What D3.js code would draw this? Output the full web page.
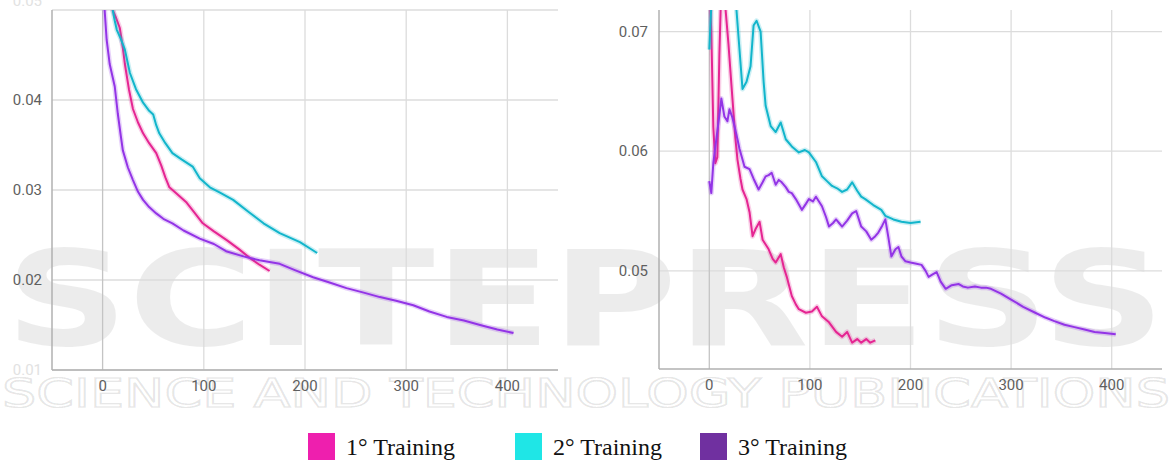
<!DOCTYPE html>
<html>
<head>
<meta charset="utf-8">
<script src="https://cdn.jsdelivr.net/npm/d3@7"></script>
<style>
  body { margin: 0; background: #fff; }
  svg { display: block; }
</style>
</head>
<body>
<script>
// series, as [step, loss] pairs
const leftPink = [[8,0.0525],[10,0.0500],[13,0.0492],[17,0.0480],[20,0.0458],[22,0.0440],[26,0.0412],[30,0.0390],[35,0.0375],[40,0.0363],[46,0.0352],[53,0.0341],[58,0.0327],[62,0.0314],[66,0.0303],[73,0.0296],[83,0.0286],[90,0.0276],[99,0.0263],[110,0.0254],[123,0.0244],[135,0.0234],[146,0.0224],[155,0.0217],[165,0.0210]];
const leftCyan = [[10,0.0500],[12,0.0488],[14,0.0478],[18,0.0468],[22,0.0456],[27,0.0430],[33,0.0412],[40,0.0397],[46,0.0388],[50,0.0384],[53,0.0372],[56,0.0363],[62,0.0352],[69,0.0341],[78,0.0334],[89,0.0326],[96,0.0313],[106,0.0303],[116,0.0297],[129,0.0289],[145,0.0275],[159,0.0263],[175,0.0252],[195,0.0242],[205,0.0235],[212,0.0230]];
const leftPurple = [[0,0.0520],[2,0.0500],[4,0.0467],[7,0.0440],[10,0.0425],[12,0.0415],[15,0.0385],[18,0.0360],[20,0.0344],[25,0.0325],[30,0.0311],[35,0.0298],[40,0.0289],[46,0.0281],[53,0.0274],[60,0.0268],[69,0.0263],[80,0.0255],[96,0.0246],[110,0.0240],[122,0.0232],[140,0.0226],[155,0.0222],[175,0.0218],[190,0.0211],[208,0.0203],[225,0.0197],[241,0.0191],[258,0.0186],[274,0.0181],[290,0.0177],[307,0.0172],[323,0.0165],[340,0.0159],[357,0.0155],[373,0.0150],[390,0.0145],[406,0.0141]];

const rightPink = [[0,0.0740],[2,0.0700],[4,0.0620],[6,0.0590],[8,0.0595],[10,0.0680],[12,0.0740],[15,0.0730],[19,0.0690],[23,0.0644],[26,0.0610],[28,0.0593],[31,0.0577],[33,0.0568],[37,0.0560],[40,0.0549],[43,0.0529],[46,0.0535],[50,0.0541],[53,0.0526],[56,0.0522],[59,0.0518],[63,0.0510],[66,0.0507],[71,0.0514],[74,0.0503],[77,0.0495],[82,0.0479],[86,0.0472],[89,0.0468],[96,0.0465],[102,0.0466],[107,0.0470],[112,0.0462],[119,0.0457],[126,0.0449],[132,0.0445],[137,0.0449],[142,0.0440],[147,0.0443],[151,0.0440],[156,0.0443],[160,0.0440],[165,0.0442]];
const rightCyan = [[0,0.0685],[3,0.0740],[10,0.0760],[20,0.0750],[25,0.0725],[27,0.0718],[30,0.0685],[33,0.0652],[37,0.0658],[41,0.0671],[44,0.0705],[47,0.0709],[51,0.0700],[54,0.0658],[56,0.0638],[61,0.0621],[66,0.0616],[71,0.0624],[76,0.0610],[82,0.0604],[89,0.0599],[95,0.0601],[99,0.0599],[106,0.0591],[112,0.0579],[117,0.0575],[122,0.0571],[127,0.0569],[132,0.0566],[137,0.0568],[142,0.0574],[147,0.0567],[151,0.0562],[155,0.0560],[163,0.0555],[171,0.0551],[175,0.0546],[183,0.0543],[191,0.0541],[200,0.0540],[210,0.0541]];
const rightPurple = [[0,0.0575],[2,0.0565],[4,0.0590],[7,0.0610],[10,0.0630],[12,0.0644],[15,0.0629],[18,0.0625],[20,0.0635],[23,0.0628],[25,0.0621],[28,0.0610],[30,0.0602],[33,0.0593],[35,0.0587],[40,0.0585],[44,0.0577],[49,0.0568],[53,0.0574],[56,0.0579],[59,0.0580],[62,0.0582],[66,0.0572],[69,0.0576],[72,0.0574],[76,0.0570],[79,0.0566],[82,0.0565],[86,0.0560],[92,0.0551],[96,0.0556],[99,0.0560],[103,0.0558],[106,0.0562],[109,0.0558],[112,0.0554],[116,0.0545],[119,0.0537],[123,0.0540],[126,0.0543],[129,0.0540],[132,0.0537],[137,0.0542],[142,0.0548],[146,0.0550],[151,0.0537],[156,0.0533],[161,0.0526],[165,0.0529],[168,0.0532],[172,0.0538],[175,0.0543],[178,0.0528],[181,0.0512],[185,0.0518],[188,0.0520],[191,0.0512],[195,0.0508],[200,0.0507],[206,0.0506],[211,0.0505],[215,0.0500],[218,0.0495],[222,0.0497],[226,0.0499],[230,0.0491],[235,0.0485],[241,0.0488],[248,0.0489],[252,0.0487],[257,0.0486],[264,0.0487],[270,0.0486],[275,0.0486],[280,0.0485],[290,0.0481],[300,0.0476],[312,0.0470],[324,0.0465],[334,0.0461],[343,0.0458],[353,0.0455],[363,0.0453],[373,0.0451],[383,0.0449],[393,0.0448],[404,0.0447]];

const xTicks = [0, 100, 200, 300, 400];
const leftYTicks = [0.01, 0.02, 0.03, 0.04, 0.05];
const rightYTicks = [0.05, 0.06, 0.07];
const legendLabels = ["1° Training", "2° Training", "3° Training"];
const lineColors = ["#e52592", "#12b5cb", "#9334e6"];
const legendColors = ["#ee1fae", "#1fe6e6", "#7030a0"];

const svg = d3.select("body")
    .append("svg")
    .attr("width", 1173)
    .attr("height", 466);

// faint publisher watermark, behind everything
const wm = svg.append("g");
wm.append("text")
    .text("SCITEPRESS")
    .attr("x", 5)
    .attr("y", 345)
    .attr("textLength", 1160)
    .attr("lengthAdjust", "spacingAndGlyphs")
    .style("font-family", "DejaVu Sans")
    .style("font-weight", "bold")
    .style("font-size", "131px")
    .attr("fill", "#000")
    .attr("fill-opacity", 0.075);
wm.append("text")
    .text("SCIENCE AND TECHNOLOGY PUBLICATIONS")
    .attr("x", 2)
    .attr("y", 407)
    .attr("textLength", 1168)
    .attr("lengthAdjust", "spacingAndGlyphs")
    .style("font-family", "DejaVu Sans")
    .style("font-size", "39px")
    .attr("fill", "none")
    .attr("stroke", "#000")
    .attr("stroke-opacity", 0.1)
    .attr("stroke-width", 1.6);

function panel(id, xRange, yDomain, yRange, yTicks, series, labelX) {
    const x = d3.scaleLinear().domain([-50, 450]).range(xRange);
    const y = d3.scaleLinear().domain(yDomain).range(yRange);
    const g = svg.append("g");

    g.append("clipPath").attr("id", id)
        .append("rect")
        .attr("x", xRange[0]).attr("y", yRange[1])
        .attr("width", xRange[1] - xRange[0])
        .attr("height", yRange[0] - yRange[1]);

    // grid
    g.selectAll(".hg").data(yTicks).enter().append("line")
        .attr("x1", xRange[0]).attr("x2", xRange[1])
        .attr("y1", d => y(d)).attr("y2", d => y(d))
        .attr("stroke", "#dcdcdc").attr("stroke-width", 1.3);
    g.selectAll(".vg").data(xTicks).enter().append("line")
        .attr("x1", d => x(d)).attr("x2", d => x(d))
        .attr("y1", yRange[1]).attr("y2", yRange[0])
        .attr("stroke", d => d === 0 ? "#c4c4c4" : "#dcdcdc").attr("stroke-width", 1.3);

    // axis lines
    g.append("line")
        .attr("x1", xRange[0]).attr("x2", xRange[0])
        .attr("y1", yRange[1]).attr("y2", yRange[0])
        .attr("stroke", "#b0b0b0").attr("stroke-width", 1.5);
    g.append("line")
        .attr("x1", xRange[0]).attr("x2", xRange[1])
        .attr("y1", yRange[0]).attr("y2", yRange[0])
        .attr("stroke", "#b0b0b0").attr("stroke-width", 1.5);

    // tick labels; the ones sitting on the frame edge are faded out
    g.selectAll(".xl").data(xTicks).enter().append("text")
        .text(d => d)
        .attr("x", d => x(d)).attr("y", yRange[0] + 21)
        .attr("text-anchor", "middle")
        .style("font-family", "Roboto")
        .style("font-size", "15px")
        .attr("fill", "#5f5f5f");
    g.selectAll(".yl").data(yTicks).enter().append("text")
        .text(d => d.toFixed(2))
        .attr("x", labelX)
        .attr("y", d => y(d) < yRange[1] + 2 ? y(d) - 4 : y(d) + 5)
        .attr("text-anchor", "end")
        .style("font-family", "Roboto")
        .style("font-size", "15px")
        .attr("fill", d => (y(d) < yRange[1] + 2 || y(d) > yRange[0] - 2) ? "#e2e2e2" : "#5f5f5f");

    const line = d3.line().x(d => x(d[0])).y(d => y(d[1]));
    const lines = g.append("g").attr("clip-path", `url(#${id})`);
    series.forEach((s, i) => {
        // light raw trace under the smoothed one
        lines.append("path").datum(s)
            .attr("d", line)
            .attr("fill", "none")
            .attr("stroke", lineColors[i])
            .attr("stroke-opacity", 0.22)
            .attr("stroke-width", 5)
            .attr("stroke-linejoin", "round");
        lines.append("path").datum(s)
            .attr("d", line)
            .attr("fill", "none")
            .attr("stroke", lineColors[i])
            .attr("stroke-width", 2)
            .attr("stroke-linejoin", "round");
    });
}

panel("clipL", [52, 558], [0.01, 0.05], [370, 10], leftYTicks, [leftPink, leftCyan, leftPurple], 42);
panel("clipR", [659, 1162], [0.0418, 0.0718], [369, 10], rightYTicks, [rightPink, rightCyan, rightPurple], 648);

// legend
const legendX = [308, 515, 700];
const leg = svg.selectAll(".leg").data(legendLabels).enter().append("g")
    .attr("transform", (d, i) => `translate(${legendX[i]},433)`);
leg.append("rect")
    .attr("width", 27).attr("height", 27)
    .attr("fill", (d, i) => legendColors[i]);
leg.append("text")
    .text(d => d)
    .attr("x", 38).attr("y", 22)
    .style("font-family", "Liberation Serif")
    .style("font-size", "24px")
    .attr("fill", "#111");
</script>
</body>
</html>
